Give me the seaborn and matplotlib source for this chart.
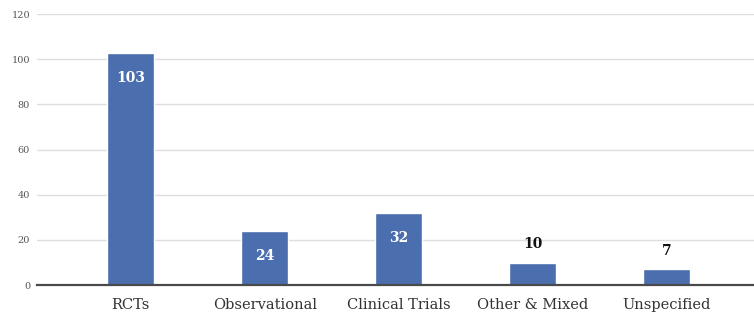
import pandas as pd
import matplotlib
matplotlib.use("Agg")
import matplotlib.pyplot as plt
import seaborn as sns

# Study design counts
categories = ["RCTs", "Observational", "Clinical Trials", "Other & Mixed", "Unspecified"]
counts = [103, 24, 32, 10, 7]
y_ticks = [0, 20, 40, 60, 80, 100, 120]

df = pd.DataFrame({"design": categories, "count": counts})

sns.set_style("white")
plt.rcParams["font.family"] = ["DejaVu Serif"]

fig = plt.figure(figsize=(7.54, 3.14), dpi=100)
ax = fig.add_axes([0.049, 0.092, 0.951, 0.863])

sns.barplot(data=df, x="design", y="count", color="#4a6eae", width=0.35,
            saturation=1, ax=ax, zorder=3)

ax.set_xlim(-0.70, 4.65)
ax.set_ylim(0, 120)
ax.set_yticks(y_ticks)
ax.grid(axis="y", color="#dedede", linewidth=1, zorder=0)
ax.set_axisbelow(True)

for s in ["top", "right", "left"]:
    ax.spines[s].set_visible(False)
ax.spines["bottom"].set_color("#4a4a4a")
ax.spines["bottom"].set_linewidth(1.6)
ax.spines["bottom"].set_zorder(4)

ax.tick_params(axis="y", length=0, labelsize=7, labelcolor="#555555", pad=5)
ax.tick_params(axis="x", length=0, labelsize=10.5, labelcolor="#333333", pad=9)
ax.set_xlabel("")
ax.set_ylabel("")

# Value labels: inside for tall bars, above for short ones
for i, v in enumerate(counts):
    if v >= 20:
        ax.annotate(str(v), (i, v), xytext=(0, -18), textcoords="offset points",
                    ha="center", va="center", color="white", fontsize=10,
                    fontweight="bold", zorder=5)
    else:
        ax.annotate(str(v), (i, v), xytext=(0, 13), textcoords="offset points",
                    ha="center", va="center", color="#111111", fontsize=10,
                    fontweight="bold", zorder=5)

fig.savefig("out.png", dpi=100)
